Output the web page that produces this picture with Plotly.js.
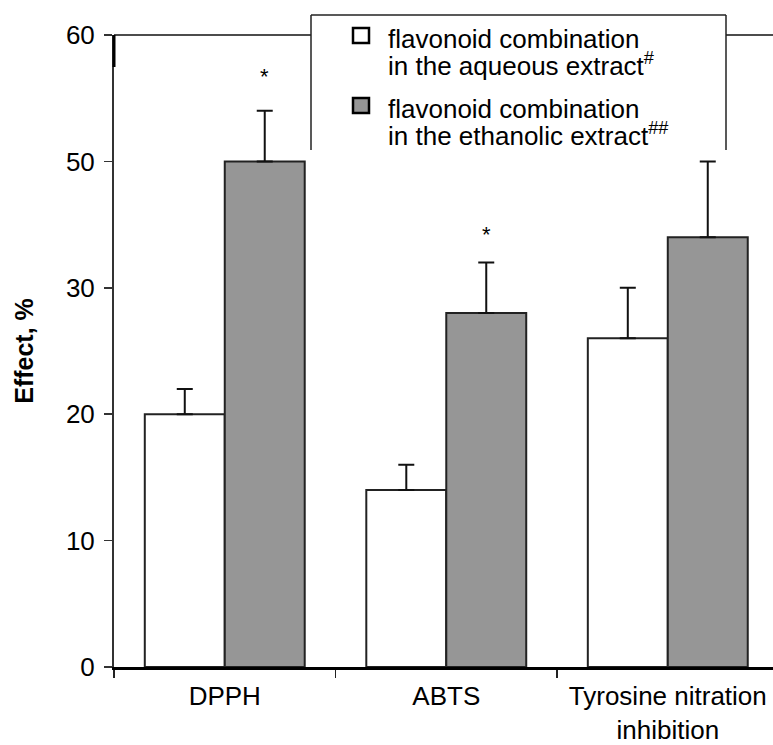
<!DOCTYPE html>
<html><head><meta charset="utf-8">
<script src="https://cdn.plot.ly/plotly-3.0.1.min.js"></script>
<style>html,body{margin:0;padding:0;overflow:hidden;background:#fff}</style>
</head><body><div id="chart" style="width:773px;height:745px"></div>
<script>
// Data (values in axis-position units; the original axis labels skip "40")
const categories = ['DPPH', 'ABTS', 'Tyrosine nitration<br>inhibition'];
const aqueousValues = [20, 14, 26];
const aqueousErrors = [2, 2, 4];
const ethanolicValues = [40, 28, 34];
const ethanolicErrors = [4, 4, 6];
const significance = ['*', '*', ''];
const yTickVals = [0, 10, 20, 30, 40, 50];
const yTickText = ['0', '10', '20', '30', '50', '60'];
const legendLines = [
  ['flavonoid combination', 'in the aqueous extract<sup>#</sup>'],
  ['flavonoid combination', 'in the ethanolic extract<sup>##</sup>']
];
const seriesColors = ['#ffffff', '#969696'];

const FONT = 'Liberation Sans, Arial, sans-serif';
const FS = 26;
const W = 773, H = 745, L = 114, R = 773, T = 35, B = 667;
const px = x => (x - L) / (R - L);
const py = y => (B - y) / (B - T);

const zeros = a => a.map(() => 0);
const traces = [
  {type: 'bar', x: categories, y: aqueousValues, name: legendLines[0].join(' '),
   marker: {color: seriesColors[0], line: {color: '#222', width: 2}},
   error_y: {type: 'data', array: aqueousErrors, arrayminus: zeros(aqueousErrors), symmetric: false,
             color: '#111', thickness: 2, width: 8}},
  {type: 'bar', x: categories, y: ethanolicValues, name: legendLines[1].join(' '),
   marker: {color: seriesColors[1], line: {color: '#222', width: 2}},
   error_y: {type: 'data', array: ethanolicErrors, arrayminus: zeros(ethanolicErrors), symmetric: false,
             color: '#111', thickness: 2, width: 8}}
];

const sigY = [2.7, 2.2, 0];
const annotations = [];
significance.forEach((s, i) => {
  if (!s) return;
  annotations.push({x: i + 0.18, y: ethanolicValues[i] + ethanolicErrors[i] + sigY[i], xref: 'x', yref: 'y',
    text: s, showarrow: false, font: {family: FONT, size: 22, color: '#000'}, yanchor: 'middle'});
});
const legendTextY = [[39, 64], [109, 135]];
legendLines.forEach((lines, k) => {
  lines.forEach((t, j) => {
    annotations.push({xref: 'paper', yref: 'paper', x: px(386), y: py(legendTextY[k][j]),
      xanchor: 'left', yanchor: 'middle', text: t, showarrow: false,
      font: {family: FONT, size: FS, color: '#000'}});
  });
});

const shapes = [
  {type: 'line', xref: 'paper', yref: 'paper', x0: 0, x1: 1, y0: 1, y1: 1, line: {color: '#111', width: 1.5}},
  {type: 'line', xref: 'paper', yref: 'paper', x0: 0, x1: 0, y0: py(35), y1: py(67), line: {color: '#000', width: 3}},
  {type: 'rect', xref: 'paper', yref: 'paper', x0: px(311), x1: px(726), y0: py(150), y1: py(15),
   fillcolor: '#fff', line: {width: 0}},
  {type: 'line', xref: 'paper', yref: 'paper', x0: px(311), x1: px(311), y0: py(15), y1: py(150), line: {color: '#222', width: 1.5}},
  {type: 'line', xref: 'paper', yref: 'paper', x0: px(726), x1: px(726), y0: py(15), y1: py(150), line: {color: '#222', width: 1.5}},
  {type: 'line', xref: 'paper', yref: 'paper', x0: px(311), x1: px(726), y0: py(15), y1: py(15), line: {color: '#222', width: 1.5}},
  {type: 'rect', xref: 'paper', yref: 'paper', x0: px(353), x1: px(369), y0: py(43), y1: py(28),
   fillcolor: seriesColors[0], line: {color: '#000', width: 2.5}},
  {type: 'rect', xref: 'paper', yref: 'paper', x0: px(353), x1: px(369), y0: py(113), y1: py(98),
   fillcolor: seriesColors[1], line: {color: '#000', width: 2.5}}
];

const layout = {
  width: W, height: H,
  margin: {l: L, r: W - R, t: T, b: H - B},
  paper_bgcolor: '#fff', plot_bgcolor: '#fff',
  font: {family: FONT, size: FS, color: '#000'},
  showlegend: false,
  barmode: 'group', bargap: 0.278, bargroupgap: 0,
  xaxis: {type: 'category', range: [-0.5, 2.475], showline: true, linecolor: '#000', linewidth: 3,
          ticks: 'outside', tickson: 'boundaries', ticklen: 8, tickwidth: 1.5, tickcolor: '#222',
          ticklabelstandoff: 4,
          showgrid: false, zeroline: false, tickfont: {family: FONT, size: FS}, automargin: false},
  yaxis: {range: [0, 50], tickvals: yTickVals, ticktext: yTickText, showline: true, linecolor: '#333',
          linewidth: 2, ticks: 'outside', ticklen: 8, tickwidth: 1.5, tickcolor: '#333',
          ticklabelstandoff: 4,
          showgrid: false, zeroline: false, tickfont: {family: FONT, size: FS}, automargin: false,
          title: {text: '<b>Effect, %</b>', font: {family: FONT, size: 25}, standoff: 25}},
  shapes: shapes,
  annotations: annotations
};

Plotly.newPlot('chart', traces, layout, {displayModeBar: false, staticPlot: true});
</script></body></html>
